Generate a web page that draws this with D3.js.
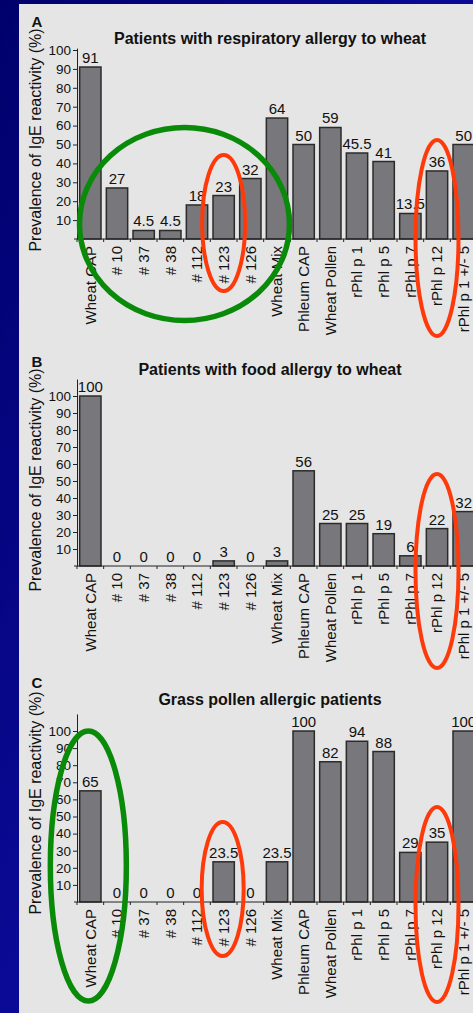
<!DOCTYPE html>
<html>
<head>
<meta charset="utf-8">
<script src="https://cdn.jsdelivr.net/npm/d3@7"></script>
<style>
  body { margin: 0; background: #00007e; }
  svg { display: block; font-family: "Liberation Sans", Arial, sans-serif; }
  .bar { fill: #78787c; stroke: #2b2b2b; stroke-width: 1.5; }
  .axis path, .axis line { stroke: #222; }
  .axis text { fill: #111; }
</style>
</head>
<body>
<svg width="473" height="1013"></svg>
<script>
(function (d3) {
  'use strict';

  // data
  const categories = ['Wheat CAP', '# 10', '# 37', '# 38', '# 112', '# 123', '# 126', 'Wheat Mix',
    'Phleum CAP', 'Wheat Pollen', 'rPhl p 1', 'rPhl p 5', 'rPhl p 7', 'rPhl p 12', 'rPhl p 1 +/- 5'];
  const respiratoryValues = [91, 27, 4.5, 4.5, 18, 23, 32, 64, 50, 59, 45.5, 41, 13.5, 36, 50];
  const foodValues = [100, 0, 0, 0, 0, 3, 0, 3, 56, 25, 25, 19, 6, 22, 32];
  const grassValues = [65, 0, 0, 0, 0, 23.5, 0, 23.5, 100, 82, 94, 88, 29, 35, 100];
  const yTicks = [10, 20, 30, 40, 50, 60, 70, 80, 90, 100];
  const yLabel = 'Prevalence of IgE reactivity (%)';

  const svg = d3.select('svg');

  const bg = svg.append('defs').append('linearGradient')
    .attr('id', 'bg').attr('x1', 0).attr('y1', 0).attr('x2', 1).attr('y2', 1);
  bg.append('stop').attr('offset', '0%').attr('stop-color', '#00006c');
  bg.append('stop').attr('offset', '50%').attr('stop-color', '#0a0a96');
  bg.append('stop').attr('offset', '100%').attr('stop-color', '#000080');

  svg.append('rect').attr('width', 473).attr('height', 1013).attr('fill', 'url(#bg)');
  svg.append('rect').attr('x', 19).attr('y', 4).attr('width', 460).attr('height', 1013).attr('fill', '#e5e5e5');

  const x = d3.scaleBand()
    .domain(categories)
    .range([77, 477])
    .paddingInner(0.2)
    .paddingOuter(0.1);

  const panels = [
    { letter: 'A', title: 'Patients with respiratory allergy to wheat', values: respiratoryValues,
      base: 239, k: 1.89, top: 101, titleY: 44, letterY: 27, labelY: 140,
      rings: [
        { cat: '# 112', dx: -12.5, cy: 224, rx: 105, ry: 96.5, color: '#098a09', w: 5.5 },
        { cat: '# 123', dx: 0, cy: 223, rx: 21.5, ry: 68, color: '#ff3a0a', w: 4 },
        { cat: 'rPhl p 12', dx: 0, cy: 238, rx: 21.5, ry: 98, color: '#ff3a0a', w: 4 }
      ] },
    { letter: 'B', title: 'Patients with food allergy to wheat', values: foodValues,
      base: 566, k: 1.7, top: 110, titleY: 375, letterY: 367, labelY: 480,
      rings: [
        { cat: 'rPhl p 12', dx: 0, cy: 571, rx: 21.5, ry: 97, color: '#ff3a0a', w: 4 }
      ] },
    { letter: 'C', title: 'Grass pollen allergic patients', values: grassValues,
      base: 902, k: 1.71, top: 110, titleY: 705, letterY: 688, labelY: 803,
      rings: [
        { cat: 'Wheat CAP', dx: -2, cy: 866, rx: 38, ry: 135, color: '#098a09', w: 5.5 },
        { cat: '# 123', dx: -1, cy: 889, rx: 21, ry: 67, color: '#ff3a0a', w: 4 },
        { cat: 'rPhl p 12', dx: 0, cy: 904.5, rx: 21.5, ry: 97.5, color: '#ff3a0a', w: 4 }
      ] }
  ];

  panels.forEach(p => {
    const g = svg.append('g');
    const y = d3.scaleLinear().domain([0, p.top]).range([p.base, p.base - p.top * p.k]);

    g.append('text')
      .attr('x', 270).attr('y', p.titleY)
      .attr('text-anchor', 'middle')
      .attr('font-size', 16).attr('font-weight', 'bold').attr('fill', '#111')
      .text(p.title);

    g.append('text')
      .attr('x', 37).attr('y', p.letterY)
      .attr('text-anchor', 'middle')
      .attr('font-size', 15).attr('font-weight', 'bold').attr('fill', '#111')
      .text(p.letter);

    g.append('text')
      .attr('transform', `translate(41,${p.labelY}) rotate(-90)`)
      .attr('text-anchor', 'middle')
      .attr('font-size', 16).attr('fill', '#111')
      .text(yLabel);

    g.selectAll('rect.bar').data(p.values)
      .enter().append('rect')
        .attr('class', 'bar')
        .attr('x', (d, i) => x(categories[i]))
        .attr('width', x.bandwidth())
        .attr('y', d => y(d))
        .attr('height', d => y(0) - y(d));

    g.selectAll('text.val').data(p.values)
      .enter().append('text')
        .attr('class', 'val')
        .attr('x', (d, i) => x(categories[i]) + x.bandwidth() / 2)
        .attr('y', d => y(d) - 4)
        .attr('text-anchor', 'middle')
        .attr('font-size', 15).attr('fill', '#111')
        .text(d => d);

    g.append('g')
      .attr('class', 'axis')
      .attr('transform', 'translate(77,0)')
      .call(d3.axisLeft(y).tickValues(yTicks).tickSize(4).tickSizeOuter(0).tickPadding(2))
      .call(a => a.selectAll('text').attr('font-size', 13.5).attr('font-family', null));

    const xAxis = g.append('g')
      .attr('class', 'axis')
      .attr('transform', `translate(0,${p.base})`)
      .call(d3.axisBottom(x).tickSize(0).tickSizeOuter(0).tickPadding(0));
    xAxis.select('.domain').attr('d', 'M74,0H480');
    xAxis.selectAll('text')
      .attr('font-size', 15).attr('font-family', null)
      .attr('transform', 'rotate(-90)')
      .attr('text-anchor', 'end')
      .attr('x', -7).attr('y', 0).attr('dy', '0.35em');

    const half = x.step() * x.paddingInner() / 2;
    xAxis.selectAll('line.sep').data(categories)
      .enter().append('line')
        .attr('class', 'sep')
        .attr('x1', d => x(d) - half).attr('x2', d => x(d) - half)
        .attr('y1', 0).attr('y2', 3);

    g.selectAll('ellipse').data(p.rings)
      .enter().append('ellipse')
        .attr('cx', d => x(d.cat) + x.bandwidth() / 2 + d.dx)
        .attr('cy', d => d.cy)
        .attr('rx', d => d.rx)
        .attr('ry', d => d.ry)
        .attr('fill', 'none')
        .attr('stroke', d => d.color)
        .attr('stroke-width', d => d.w);
  });

}(d3));
</script>
</body>
</html>
